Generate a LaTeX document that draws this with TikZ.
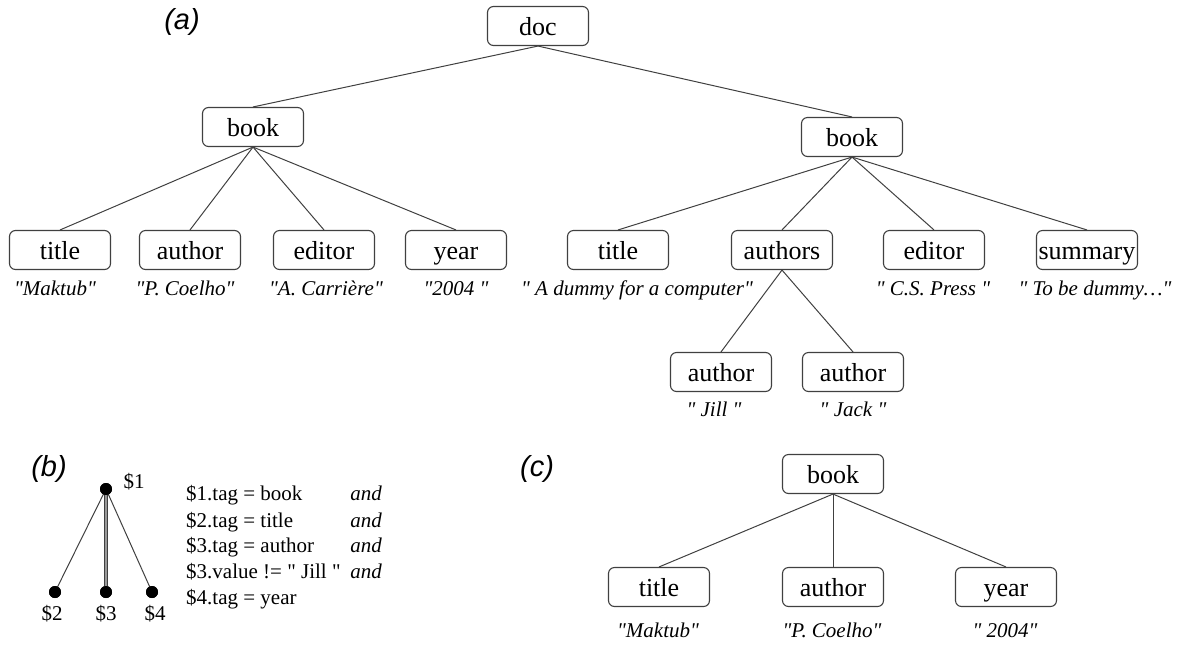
\documentclass[tikz,border=0pt]{standalone}
\usepackage{fontspec}
\setmainfont{Liberation Serif}
\newfontfamily\lsans{Liberation Sans}
\newcommand\qd{\textquotedbl}
\begin{document}
\begin{tikzpicture}[x=1pt,y=-1pt,
 box/.style={draw=black!75, line width=1.1pt, rounded corners=6pt, minimum width=101pt, minimum height=39pt, inner sep=0pt, text height=20pt, text depth=1pt, font=\fontsize{26}{30}\selectfont, fill=white},
 val/.style={font=\fontsize{21}{24}\selectfont\itshape, inner sep=0pt, text height=15pt, text depth=5pt},
 edge/.style={draw=black!75, line width=1pt},
 lab/.style={font=\lsans\itshape\fontsize{29}{32}\selectfont, inner sep=0pt},
 dot/.style={circle, fill=black, inner sep=0pt, minimum size=12pt},
 cond/.style={font=\fontsize{21}{24}\selectfont, anchor=base west, inner sep=0pt},
 andtxt/.style={font=\fontsize{21}{24}\selectfont\itshape, anchor=base east, inner sep=0pt},
 dlab/.style={font=\fontsize{21}{24}\selectfont, inner sep=0pt}]
\useasboundingbox (0,0) rectangle (1191,649);

% (a)
\node[lab] (la) at (182,22) {(a)};
\node[box] (doc) at (538,26) {doc};
\node[box] (b1) at (253,127) {book};
\node[box] (b2) at (852,137) {book};
\node[box] (t1) at (60,250) {title};
\node[box] (a1) at (190,250) {author};
\node[box] (e1) at (324,250) {editor};
\node[box] (y1) at (456,250) {year};
\node[box] (t2) at (618,250) {title};
\node[box] (as2) at (782,250) {authors};
\node[box] (e2) at (934,250) {editor};
\node[box] (s2) at (1087,250) {summary};
\node[box] (au1) at (721,372) {author};
\node[box] (au2) at (853,372) {author};

\foreach \p/\c in {doc/b1,doc/b2,b1/t1,b1/a1,b1/e1,b1/y1,b2/t2,b2/as2,b2/e2,b2/s2,as2/au1,as2/au2}
  \draw[edge] (\p.south) -- (\c.north);

\node[val] (v1) at (55,290) {\qd Maktub\qd};
\node[val] (v2) at (185,290) {\qd P. Coelho\qd};
\node[val] (v3) at (326,290) {\qd A. Carrière\qd};
\node[val] (v4) at (456,290) {\qd 2004 \qd};
\node[val] (v5) at (637,290) {\qd\ A dummy for a computer\qd};
\node[val] (v6) at (933,290) {\qd\ C.S. Press \qd};
\node[val] (v7) at (1095,290) {\qd\ To be dummy\dots\qd};
\node[val] (v8) at (714,411) {\qd\ Jill \qd};
\node[val] (v9) at (853,411) {\qd\ Jack \qd};

% (b)
\node[lab] (lb) at (49,469) {(b)};
\node[dot] (d1) at (106,489) {};
\node[dot] (d2) at (55,592) {};
\node[dot] (d3) at (106,592) {};
\node[dot] (d4) at (152,592) {};
\draw[edge] (d1.center) -- (d2.center);
\draw[edge] (d1.center) -- (d4.center);
\draw[draw=black!75, line width=1pt, double=black!40, double distance=2.5pt] (d1.center) -- (d3.center);
\node[dot] at (d1) {};
\node[dot] at (d2) {};
\node[dot] at (d3) {};
\node[dot] at (d4) {};
\node[dlab] (n1) at (134,482) {\$1};
\node[dlab] (n2) at (52,614) {\$2};
\node[dlab] (n3) at (106,614) {\$3};
\node[dlab] (n4) at (155,614) {\$4};

\node[cond] (c1) at (186,500) {\$1.tag = book};
\node[cond] (c2) at (186,527) {\$2.tag = title};
\node[cond] (c3) at (186,552) {\$3.tag = author};
\node[cond] (c4) at (186,578) {\$3.value != \qd\ Jill \qd};
\node[cond] (c5) at (186,604) {\$4.tag = year};
\node[andtxt] (and1) at (382,500) {and};
\node[andtxt] (and2) at (382,527) {and};
\node[andtxt] (and3) at (382,552) {and};
\node[andtxt] (and4) at (382,578) {and};

% (c)
\node[lab] (lc) at (537,469) {(c)};
\node[box] (cb) at (833,474) {book};
\node[box] (ct) at (659,587) {title};
\node[box] (ca) at (833,587) {author};
\node[box] (cy) at (1006,587) {year};
\foreach \c in {ct,ca,cy}
  \draw[edge] (cb.south) -- (\c.north);
\node[val] (cv1) at (658,632) {\qd Maktub\qd};
\node[val] (cv2) at (832,632) {\qd P. Coelho\qd};
\node[val] (cv3) at (1005,632) {\qd\ 2004\qd};
\end{tikzpicture}
\end{document}
